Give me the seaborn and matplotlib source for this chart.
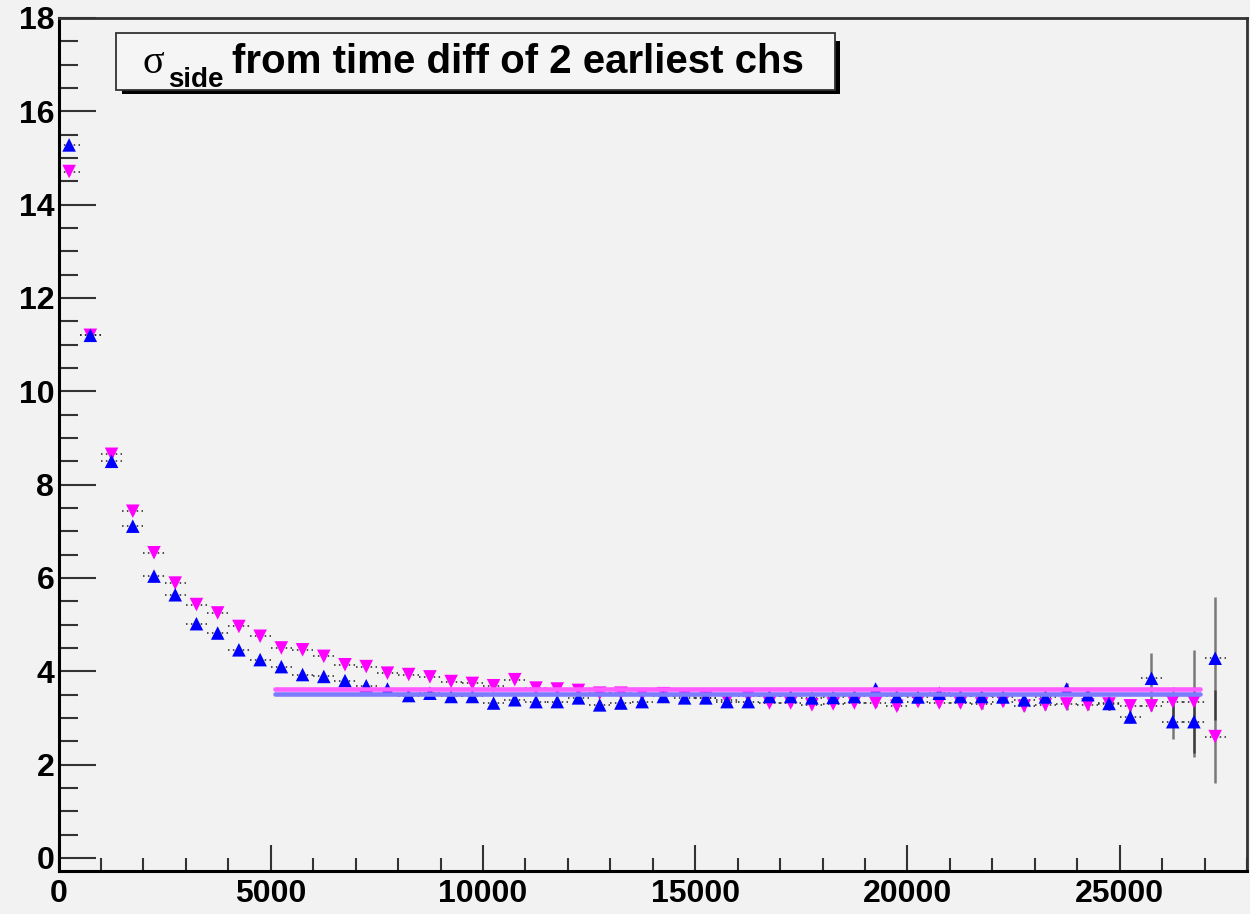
import numpy as np
import pandas as pd
import matplotlib
matplotlib.use("Agg")
import matplotlib.pyplot as plt
from matplotlib.patches import Rectangle
from matplotlib.transforms import IdentityTransform
from matplotlib.ticker import MultipleLocator
import seaborn as sns

# Bin centres (500-wide bins from 0 to 27500)
bin_centres = np.arange(250, 27500, 500)

# sigma from the upward-triangle channel pair
sigma_up = [15.28, 11.20, 8.50, 7.11, 6.04, 5.64, 5.02, 4.82, 4.46, 4.25,
            4.10, 3.93, 3.89, 3.80, 3.69, 3.62, 3.48, 3.53, 3.46, 3.46,
            3.32, 3.39, 3.35, 3.35, 3.43, 3.28, 3.32, 3.35, 3.46, 3.43,
            3.43, 3.35, 3.35, 3.46, 3.46, 3.43, 3.44, 3.46, 3.62, 3.46,
            3.45, 3.53, 3.46, 3.46, 3.45, 3.39, 3.45, 3.62, 3.50, 3.31,
            3.02, 3.85, 2.92, 2.92, 4.28]
err_up = [0.08, 0.06, 0.05, 0.05, 0.05, 0.05, 0.05, 0.05, 0.05, 0.05,
          0.05, 0.05, 0.05, 0.05, 0.05, 0.05, 0.05, 0.05, 0.05, 0.05,
          0.05, 0.05, 0.05, 0.05, 0.05, 0.05, 0.05, 0.05, 0.05, 0.06,
          0.06, 0.06, 0.06, 0.06, 0.06, 0.07, 0.07, 0.07, 0.08, 0.08,
          0.08, 0.09, 0.09, 0.10, 0.10, 0.11, 0.12, 0.13, 0.14, 0.15,
          0.12, 0.55, 0.37, 0.75, 1.32]

# sigma from the downward-triangle channel pair
sigma_down = [14.71, 11.20, 8.65, 7.43, 6.54, 5.89, 5.43, 5.25, 4.96, 4.75,
              4.50, 4.46, 4.32, 4.14, 4.10, 3.96, 3.93, 3.88, 3.78, 3.74,
              3.69, 3.82, 3.64, 3.62, 3.59, 3.53, 3.53, 3.50, 3.52, 3.46,
              3.43, 3.39, 3.46, 3.32, 3.32, 3.28, 3.30, 3.32, 3.32, 3.25,
              3.35, 3.32, 3.32, 3.30, 3.35, 3.25, 3.28, 3.30, 3.28, 3.30,
              3.26, 3.26, 3.35, 3.35, 2.60]
err_down = [0.08, 0.06, 0.05, 0.05, 0.05, 0.05, 0.05, 0.05, 0.05, 0.05,
            0.05, 0.05, 0.05, 0.05, 0.05, 0.05, 0.05, 0.05, 0.05, 0.05,
            0.05, 0.05, 0.05, 0.05, 0.05, 0.05, 0.05, 0.05, 0.05, 0.06,
            0.06, 0.06, 0.06, 0.06, 0.06, 0.07, 0.07, 0.07, 0.08, 0.08,
            0.08, 0.09, 0.09, 0.10, 0.10, 0.11, 0.12, 0.12, 0.12, 0.12,
            0.12, 0.12, 0.32, 1.10, 1.00]

# Constant fits over the plateau
fit_range = [5100, 26900]
fit_up = 3.515
fit_down = 3.615

x_ticks = [0, 5000, 10000, 15000, 20000, 25000]
y_ticks = [0, 2, 4, 6, 8, 10, 12, 14, 16, 18]

BG = "#f2f2f2"
BLUE = "#0000ff"
MAGENTA = "#ff00ff"

sns.set_theme(style="ticks")
plt.rcParams["font.family"] = ["Liberation Sans", "DejaVu Sans"]
plt.rcParams["font.weight"] = "bold"
plt.rcParams["text.color"] = "black"

W, H = 1250, 914
fig = plt.figure(figsize=(W / 100, H / 100), dpi=100, facecolor=BG)
ax_l, ax_r, ax_t, ax_b = 58.5, 1247, 18, 871
ax = fig.add_axes([ax_l / W, (H - ax_b) / H, (ax_r - ax_l) / W, (ax_b - ax_t) / H])
ax.set_facecolor(BG)

df = pd.DataFrame({
    "x": np.concatenate([bin_centres, bin_centres]),
    "sigma": np.concatenate([sigma_down, sigma_up]),
    "err": np.concatenate([err_down, err_up]),
    "pair": ["down"] * len(bin_centres) + ["up"] * len(bin_centres),
})

# Error bars: dotted horizontal bin-width bars, translucent vertical bars
for pair in ["down", "up"]:
    d = df[df["pair"] == pair]
    eb = ax.errorbar(d["x"], d["sigma"], xerr=250, fmt="none",
                     ecolor="#222222", elinewidth=1.1, zorder=2)
    eb[2][0].set_linestyle((0, (1, 2.2)))
    ax.errorbar(d["x"], d["sigma"], yerr=d["err"], fmt="none",
                ecolor="black", elinewidth=1.8, alpha=0.5, zorder=2)

sns.scatterplot(data=df[df["pair"] == "down"], x="x", y="sigma", marker="v",
                s=95, color=MAGENTA, edgecolor="none", linewidth=0, ax=ax,
                zorder=3, legend=False)
sns.scatterplot(data=df[df["pair"] == "up"], x="x", y="sigma", marker="^",
                s=95, color=BLUE, edgecolor="none", linewidth=0, ax=ax,
                zorder=4, legend=False)

fits = pd.DataFrame({
    "x": fit_range * 2,
    "sigma": [fit_down, fit_down, fit_up, fit_up],
    "pair": ["down", "down", "up", "up"],
})
sns.lineplot(data=fits[fits["pair"] == "down"], x="x", y="sigma",
             color="#ff5cff", linewidth=3.3, ax=ax, zorder=5, legend=False)
sns.lineplot(data=fits[fits["pair"] == "up"], x="x", y="sigma",
             color="#7c7cff", linewidth=3.3, ax=ax, zorder=5, legend=False)

ax.set_xlim(0, 28000)
ax.set_ylim(-0.28, 18)
ax.set_xlabel("")
ax.set_ylabel("")
ax.set_xticks(x_ticks)
ax.set_xticklabels([str(v) for v in x_ticks])
ax.set_yticks(y_ticks)
ax.set_yticklabels([str(v) for v in y_ticks])
ax.xaxis.set_minor_locator(MultipleLocator(1000))
ax.yaxis.set_minor_locator(MultipleLocator(0.5))

ax.tick_params(axis="x", which="major", direction="in", length=18.5, width=1.5,
               color="#333333", labelsize=23, pad=6, labelcolor="black")
ax.tick_params(axis="x", which="minor", direction="in", length=9.4, width=1.5,
               color="#333333")
ax.tick_params(axis="y", which="major", direction="in", length=26.5, width=1.5,
               color="#333333", labelsize=23, pad=3, labelcolor="black")
ax.tick_params(axis="y", which="minor", direction="in", length=13.5, width=1.5,
               color="#333333")
for lab in ax.get_xticklabels() + ax.get_yticklabels():
    lab.set_fontweight("bold")

for side in ["left", "bottom"]:
    ax.spines[side].set_linewidth(2.2)
    ax.spines[side].set_color("black")
for side in ["top", "right"]:
    ax.spines[side].set_visible(True)
    ax.spines[side].set_linewidth(2.0)
    ax.spines[side].set_color("#333333")

# Title pave with drop shadow (pixel coordinates)
ident = IdentityTransform()
fig.add_artist(Rectangle((122, H - 94), 718, 53, transform=ident,
                         facecolor="black", edgecolor="none", zorder=10))
fig.add_artist(Rectangle((116, H - 90), 719, 57, transform=ident,
                         facecolor="#f5f5f5", edgecolor="#333333",
                         linewidth=1.3, zorder=11))
fig.text(142, H - 73, "σ", transform=ident, fontsize=29, color="black",
         family=["Liberation Serif", "DejaVu Serif"], fontweight="normal",
         ha="left", va="baseline", zorder=12)
fig.text(168, H - 87, "side", transform=ident, fontsize=20, fontweight="bold",
         color="black", ha="left", va="baseline", zorder=12)
fig.text(232, H - 73, "from time diff of 2 earliest chs", transform=ident,
         fontsize=29, fontweight="bold", color="black", ha="left",
         va="baseline", zorder=12)

fig.savefig("out.png", dpi=100, facecolor=BG)
